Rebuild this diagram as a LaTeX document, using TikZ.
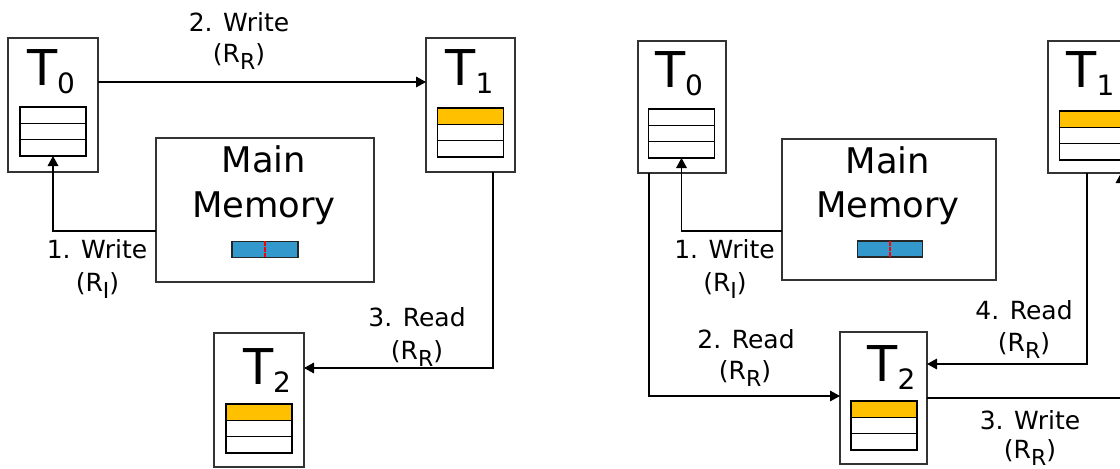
\documentclass[tikz,border=0pt]{standalone}
\usepackage{fontspec}
\setmainfont{DejaVu Sans}
\usetikzlibrary{arrows.meta}
\definecolor{yel}{RGB}{255,192,0}
\definecolor{blu}{RGB}{51,153,204}
\newcommand\tlab[1]{{\fontsize{37}{37}\selectfont T}\raisebox{-6pt}{\fontsize{21}{21}\selectfont #1}}
\newcommand\rsubs[1]{(R\raisebox{-5.5pt}{\fontsize{16.5}{16.5}\selectfont #1})}
\newcommand\mkregs[4]{%
  \node[reg, fill=#4, anchor=north] (#1a) at (#2,#3) {};
  \node[reg, anchor=north] (#1b) at (#1a.south) {};
  \node[reg, anchor=north] (#1c) at (#1b.south) {};}
\tikzset{
  tbox/.style={draw=black!80, line width=0.8pt, inner sep=0pt, outer sep=0pt},
  reg/.style={draw=black, line width=0.8pt, fill=white, minimum width=49.5pt, minimum height=12.25pt, inner sep=0pt, outer sep=0pt},
  bar/.style={draw=black!85, line width=0.8pt, fill=blu, minimum width=49.5pt, minimum height=12.5pt, inner sep=0pt, outer sep=0pt},
  lab/.style={anchor=base, inner sep=0pt, font=\fontsize{18.75}{22}\selectfont},
  mm/.style={anchor=base, inner sep=0pt, font=\fontsize{26.5}{30}\selectfont},
  tl/.style={anchor=base, inner sep=0pt},
  arr/.style={draw=black, line width=0.8pt, -{Triangle[length=7.5pt,width=8pt]}},
  reddash/.style={draw=red, line width=1.1pt, dash pattern=on 3.5pt off 0.8pt}
}
\begin{document}
\begin{tikzpicture}[x=0.75pt,y=-0.75pt]
\useasboundingbox (0,0) rectangle (1120,468);
\clip (0,0) rectangle (1120,468);
% ---------- left panel ----------
\node[tbox, minimum width=67.5pt, minimum height=100.5pt] (T0L) at (53,105) {};
\node[tbox, minimum width=66.75pt, minimum height=100.5pt] (T1L) at (470.5,105) {};
\node[tbox, minimum width=67.5pt, minimum height=100.5pt] (T2L) at (259,400) {};
\node[tbox, minimum width=163.5pt, minimum height=108pt] (MML) at (265,210) {};
\mkregs{T0L}{53}{107}{white}
\mkregs{T1L}{470.5}{108}{yel}
\mkregs{T2L}{259}{404}{yel}
\node[bar] (BL) at (265,249.5) {};
\draw[reddash] (BL.north) -- (BL.south);
\node[tl] (T0Lt) at (51,85) {\tlab{0}};
\node[tl] (T1Lt) at (469.5,85) {\tlab{1}};
\node[tl] (T2Lt) at (267,384) {\tlab{2}};
\node[mm] (MMLa) at (264,172) {Main};
\node[mm] (MMLb) at (264,217) {Memory};
\coordinate (k1) at (0,231);
\coordinate (k2L) at (0,82);
\coordinate (k3L) at (493,368);
\draw[arr] (MML.west |- k1) -| (T0Lc.south);
\draw[arr] (T0L.east |- k2L) -- (T1L.west |- k2L);
\draw[arr] (T1L.south -| k3L) |- (T2L.east |- k3L);
\node[lab] (l2a) at (239,31) {2. Write};
\node[lab] (l2b) at (239,62) {\rsubs{R}};
\node[lab] (l1a) at (97,258) {1. Write};
\node[lab] (l1b) at (97.5,291) {\rsubs{I}};
\node[lab] (l3a) at (417,326) {3. Read};
\node[lab] (l3b) at (417,359) {\rsubs{R}};
% ---------- right panel ----------
\node[tbox, minimum width=66pt, minimum height=99pt] (T0R) at (682,107) {};
\node[tbox, minimum width=66.75pt, minimum height=99pt] (T1R) at (1092.5,107) {};
\node[tbox, minimum width=65.25pt, minimum height=99pt] (T2R) at (883.5,398) {};
\node[tbox, minimum width=160.5pt, minimum height=105.75pt] (MMR) at (889,209.5) {};
\mkregs{T0R}{681.5}{109}{white}
\mkregs{T1R}{1092.5}{111}{yel}
\mkregs{T2R}{884}{401}{yel}
\node[bar, minimum width=48.75pt, minimum height=12pt] (BR) at (890,249) {};
\draw[reddash] (BR.north) -- (BR.south);
\node[tl] (T0Rt) at (679,87) {\tlab{0}};
\node[tl] (T1Rt) at (1090.5,87) {\tlab{1}};
\node[tl] (T2Rt) at (891.5,381) {\tlab{2}};
\node[mm] (MMRa) at (888,173) {Main};
\node[mm] (MMRb) at (888,217) {Memory};
\coordinate (k2R) at (649,396);
\coordinate (k4R) at (1087,364);
\coordinate (k3R) at (1121,398);
\draw[arr] (MMR.west |- k1) -| (T0Rc.south);
\draw[arr] (T0R.south -| k2R) |- (T2R.west |- k2R);
\draw[arr] (T1R.south -| k4R) |- (T2R.east |- k4R);
\draw[arr] (T2R.east |- k3R) -| (T1R.south -| k3R);
\node[lab] (r1a) at (724.5,258) {1. Write};
\node[lab] (r1b) at (725,291) {\rsubs{I}};
\node[lab] (r2a) at (746,348) {2. Read};
\node[lab] (r2b) at (745,379) {\rsubs{R}};
\node[lab] (r4a) at (1024,319) {4. Read};
\node[lab] (r4b) at (1024,351) {\rsubs{R}};
\node[lab] (r3a) at (1030,429) {3. Write};
\node[lab] (r3b) at (1030,458) {\rsubs{R}};
\end{tikzpicture}
\end{document}
